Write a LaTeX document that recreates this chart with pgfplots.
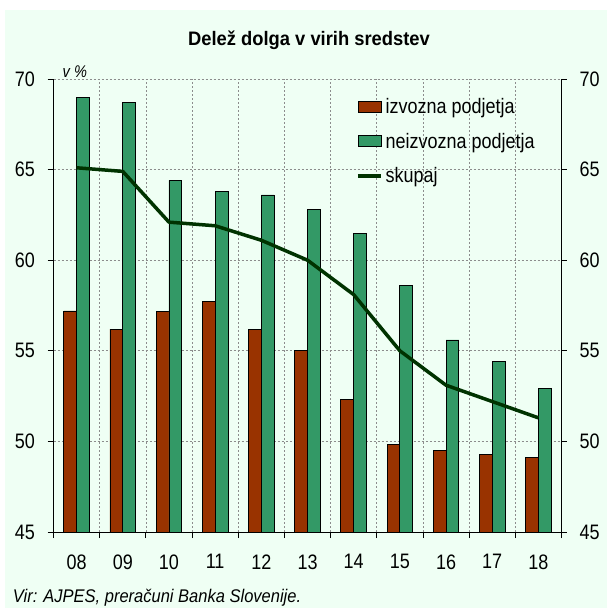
\documentclass[border=0pt]{standalone}
\usepackage{pgfplots}
\pgfplotsset{compat=1.18}
\usepackage{fontspec}
\setmainfont[FakeStretch=0.86]{Liberation Sans}
\newfontfamily\titlefont[FakeStretch=0.94]{Liberation Sans}
\newfontfamily\srcfont[FakeStretch=0.90]{Liberation Sans}
\definecolor{bgmint}{HTML}{EFFFF4}
\definecolor{izv}{HTML}{993300}
\definecolor{neizv}{HTML}{339966}
\definecolor{skup}{HTML}{003300}
\definecolor{gridgray}{HTML}{8C8C8C}
\begin{document}
\begin{tikzpicture}[x=1bp,y=1bp]
\fill[white] (0,0) rectangle (607,608);
\fill[bgmint] (4.5,0) rectangle (607,598);
\node[anchor=base, inner sep=0pt, font=\titlefont\bfseries\fontsize{19.6}{22}\selectfont] at (309,562.3) {Delež dolga v virih sredstev};
\node[anchor=base west, inner sep=0pt, font=\srcfont\itshape\fontsize{18.4}{20}\selectfont] at (12.7,5.3) {Vir: AJPES, preračuni Banka Slovenije.};
\node[anchor=base west, inner sep=0pt, font=\itshape\fontsize{17}{18}\selectfont] at (62.5,530.5) {v \%};
\begin{axis}[
  at={(53.5bp,76bp)}, anchor=south west,
  scale only axis, width=508bp, height=453bp,
  xmin=-0.5, xmax=10.5, ymin=45, ymax=70,
  axis x line*=bottom, axis y line*=left,
  ybar=0pt, bar width=12.8bp,
  xtick={-0.5,0.5,...,10.5},
  xticklabels={},
  extra x ticks={0,1,...,10},
  extra x tick labels={08,09,10,11,12,13,14,15,16,17,18},
  extra x tick style={grid=none, tick style={draw=none},
    xticklabel style={yshift=-13bp}},
  ytick={45,50,...,70},
  yticklabel style={xshift=-9bp},
  tick align=outside,
  major tick length=6bp,
  xmajorgrids, ymajorgrids,
  grid style={gridgray, dash pattern=on 2bp off 2bp, line width=0.6bp},
  axis line style={black, line width=0.8bp},
  tick style={black, line width=0.8bp},
  ticklabel style={font=\fontsize{21}{24}\selectfont},
  /pgf/number format/assume math mode=true,
  legend cell align=left,
  legend style={draw=none, fill=none, inner sep=0pt, row sep=16bp, column sep=2bp,
    at={(axis description cs:0.5955,0.96)}, anchor=north west,
    nodes={inner sep=1bp, anchor=west},
    font=\fontsize{21}{24}\selectfont},
]
\addplot[fill=izv, draw=black, line width=0.8bp, bar shift=-6.4bp,
  legend image code/.code={\draw[fill=izv, draw=black, line width=0.8bp] (0bp,-5.5bp) rectangle (23bp,5.5bp);}]
  coordinates {(0,57.2) (1,56.2) (2,57.15) (3,57.7) (4,56.2) (5,55.0) (6,52.3) (7,49.85) (8,49.5) (9,49.3) (10,49.1)};
\addlegendentry{izvozna podjetja}
\addplot[fill=neizv, draw=black, line width=0.8bp, bar shift=6.4bp,
  legend image code/.code={\draw[fill=neizv, draw=black, line width=0.8bp] (0bp,-5.5bp) rectangle (23bp,5.5bp);}]
  coordinates {(0,69.0) (1,68.7) (2,64.4) (3,63.8) (4,63.6) (5,62.8) (6,61.5) (7,58.6) (8,55.6) (9,54.4) (10,52.9)};
\addlegendentry{neizvozna podjetja}
\addplot[sharp plot, draw=skup, line width=3.5bp, line join=round,
  legend image code/.code={\draw[skup, line width=3.5bp] (0bp,0bp) -- (23bp,0bp);}]
  coordinates {(0,65.1) (1,64.9) (2,62.1) (3,61.9) (4,61.1) (5,60.0) (6,58.1) (7,55.0) (8,53.1) (9,52.2) (10,51.3)};
\addlegendentry{skupaj}
\end{axis}
\begin{axis}[
  at={(53.5bp,76bp)}, anchor=south west,
  scale only axis, width=508bp, height=453bp,
  xmin=-0.5, xmax=10.5, ymin=45, ymax=70,
  axis x line=none, axis y line*=right,
  ytick={45,50,...,70},
  yticklabel style={xshift=9.5bp},
  tick align=outside, major tick length=5bp,
  axis line style={black, line width=0.8bp},
  tick style={black, line width=0.8bp},
  ticklabel style={font=\fontsize{21}{24}\selectfont},
  /pgf/number format/assume math mode=true,
]
\addplot[draw=none, forget plot] coordinates {(0,45)};
\end{axis}
\end{tikzpicture}
\end{document}
